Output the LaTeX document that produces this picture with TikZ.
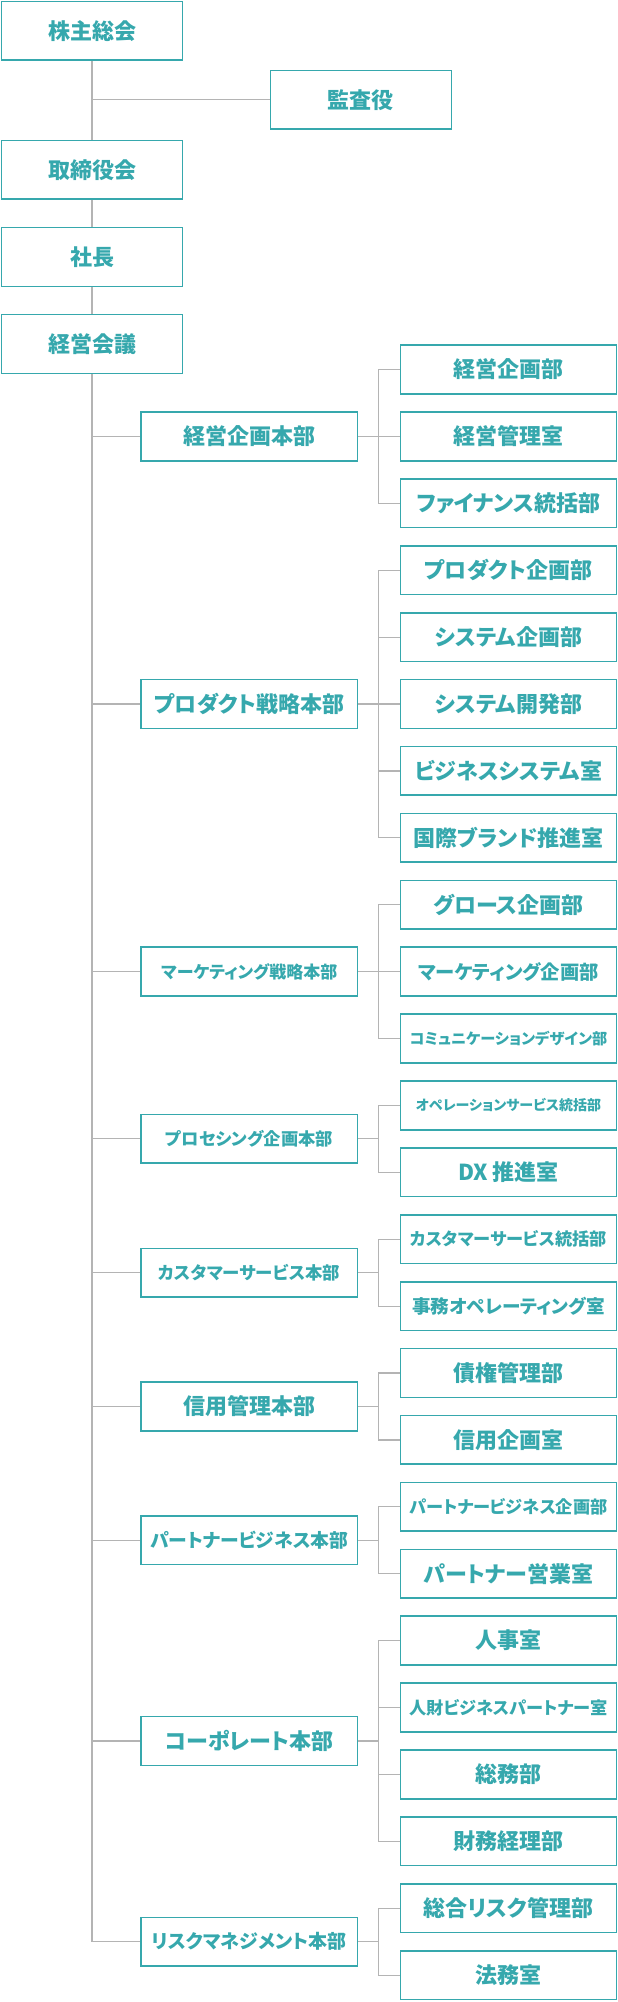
\documentclass[tikz,border=0pt]{standalone}
\usepackage{fontspec}
\newfontfamily\jp{Noto Sans CJK JP}[RawFeature={+palt}]
\definecolor{tealc}{HTML}{36A8AD}
\definecolor{linec}{HTML}{B4B4B4}
\newcommand\fs[1]{\fontsize{#1pt}{#1pt}\selectfont}
\tikzset{
  box/.style={draw=tealc, line width=1.6pt, text=tealc, inner sep=0pt, font=\jp\bfseries},
  lbox/.style={box, minimum width=181pt, minimum height=58.7pt},
  mbox/.style={box, minimum width=216.4pt, minimum height=48.7pt},
  rbox/.style={box, minimum width=216pt, minimum height=48.7pt},
  conn/.style={draw=linec, line width=1.2pt},
}
\begin{document}
\begin{tikzpicture}[x=1pt,y=-1pt]
\useasboundingbox (0,0) rectangle (618,2002);
% top column
\node[lbox] (k1) at (92,30.85) {\fs{22}株主総会};
\node[lbox] (k2) at (92,169.85) {\fs{22}取締役会};
\node[lbox] (k3) at (92,257) {\fs{22}社長};
\node[lbox] (k4) at (92,344) {\fs{22}経営会議};
\node[lbox] (audit) at (360.8,99.85) {\fs{22}監査役};
% middle column
\node[mbox] (mA) at (249.3,436.4) {\fs{22}経営企画本部};
\node[mbox] (mB) at (249.3,704.0) {\fs{22}プロダクト戦略本部};
\node[mbox] (mC) at (249.3,971.6) {\fs{17}マーケティング戦略本部};
\node[mbox] (mD) at (249.3,1138.85) {\fs{17.3}プロセシング企画本部};
\node[mbox] (mE) at (249.3,1272.65) {\fs{17.4}カスタマーサービス本部};
\node[mbox] (mF) at (249.3,1406.45) {\fs{22}信用管理本部};
\node[mbox] (mG) at (249.3,1540.25) {\fs{18.8}パートナービジネス本部};
\node[mbox] (mH) at (249.3,1740.95) {\fs{22}コーポレート本部};
\node[mbox] (mI) at (249.3,1941.65) {\fs{19}リスクマネジメント本部};
% right column
\node[rbox] (r0) at (508.5,369.5) {\fs{22}経営企画部};
\node[rbox] (r1) at (508.5,436.4) {\fs{22}経営管理室};
\node[rbox] (r2) at (508.5,503.3) {\fs{22}ファイナンス統括部};
\node[rbox] (r3) at (508.5,570.2) {\fs{22}プロダクト企画部};
\node[rbox] (r4) at (508.5,637.1) {\fs{22}システム企画部};
\node[rbox] (r5) at (508.5,704.0) {\fs{22}システム開発部};
\node[rbox] (r6) at (508.5,770.9) {\fs{22}ビジネスシステム室};
\node[rbox] (r7) at (508.5,837.8) {\fs{22}国際ブランド推進室};
\node[rbox] (r8) at (508.5,904.7) {\fs{22}グロース企画部};
\node[rbox] (r9) at (508.5,971.6) {\fs{19.3}マーケティング企画部};
\node[rbox] (r10) at (508.5,1038.5) {\fs{15.2}コミュニケーションデザイン部};
\node[rbox] (r11) at (508.5,1105.4) {\fs{14}オペレーションサービス統括部};
\node[rbox] (r12) at (508.5,1172.3) {\fs{22}DX 推進室};
\node[rbox] (r13) at (508.5,1239.2) {\fs{17.2}カスタマーサービス統括部};
\node[rbox] (r14) at (508.5,1306.1) {\fs{18.6}事務オペレーティング室};
\node[rbox] (r15) at (508.5,1373.0) {\fs{22}債権管理部};
\node[rbox] (r16) at (508.5,1439.9) {\fs{22}信用企画室};
\node[rbox] (r17) at (508.5,1506.8) {\fs{17.2}パートナービジネス企画部};
\node[rbox] (r18) at (508.5,1573.7) {\fs{22}パートナー営業室};
\node[rbox] (r19) at (508.5,1640.6) {\fs{22}人事室};
\node[rbox] (r20) at (508.5,1707.5) {\fs{17.2}人財ビジネスパートナー室};
\node[rbox] (r21) at (508.5,1774.4) {\fs{22}総務部};
\node[rbox] (r22) at (508.5,1841.3) {\fs{22}財務経理部};
\node[rbox] (r23) at (508.5,1908.2) {\fs{22}総合リスク管理部};
\node[rbox] (r24) at (508.5,1975.1) {\fs{22}法務室};
\coordinate (bx) at (378.7,0);
% top connectors
\draw[conn] (k1.south) -- (k2.north);
\draw[conn] (audit.west) -- (audit.west -| k1.south);
\draw[conn] (k2.south) -- (k3.north);
\draw[conn] (k3.south) -- (k4.north);
\draw[conn] (k4.south) -- (k4.south |- mI.west);
\foreach \m in {mA,mB,mC,mD,mE,mF,mG,mH,mI}{
  \draw[conn] (\m.west -| k4.south) -- (\m.west);
  \draw[conn] (\m.east) -- (bx |- \m.east);
}
% brackets
\foreach \a/\b in {r0/r2,r3/r7,r8/r10,r11/r12,r13/r14,r15/r16,r17/r18,r19/r22,r23/r24}{
  \draw[conn] (\a.west) -- (bx |- \a.west) -- (bx |- \b.west) -- (\b.west);
}
\foreach \c in {r1,r4,r5,r6,r9,r20,r21}{
  \draw[conn] (bx |- \c.west) -- (\c.west);
}
\end{tikzpicture}
\end{document}
